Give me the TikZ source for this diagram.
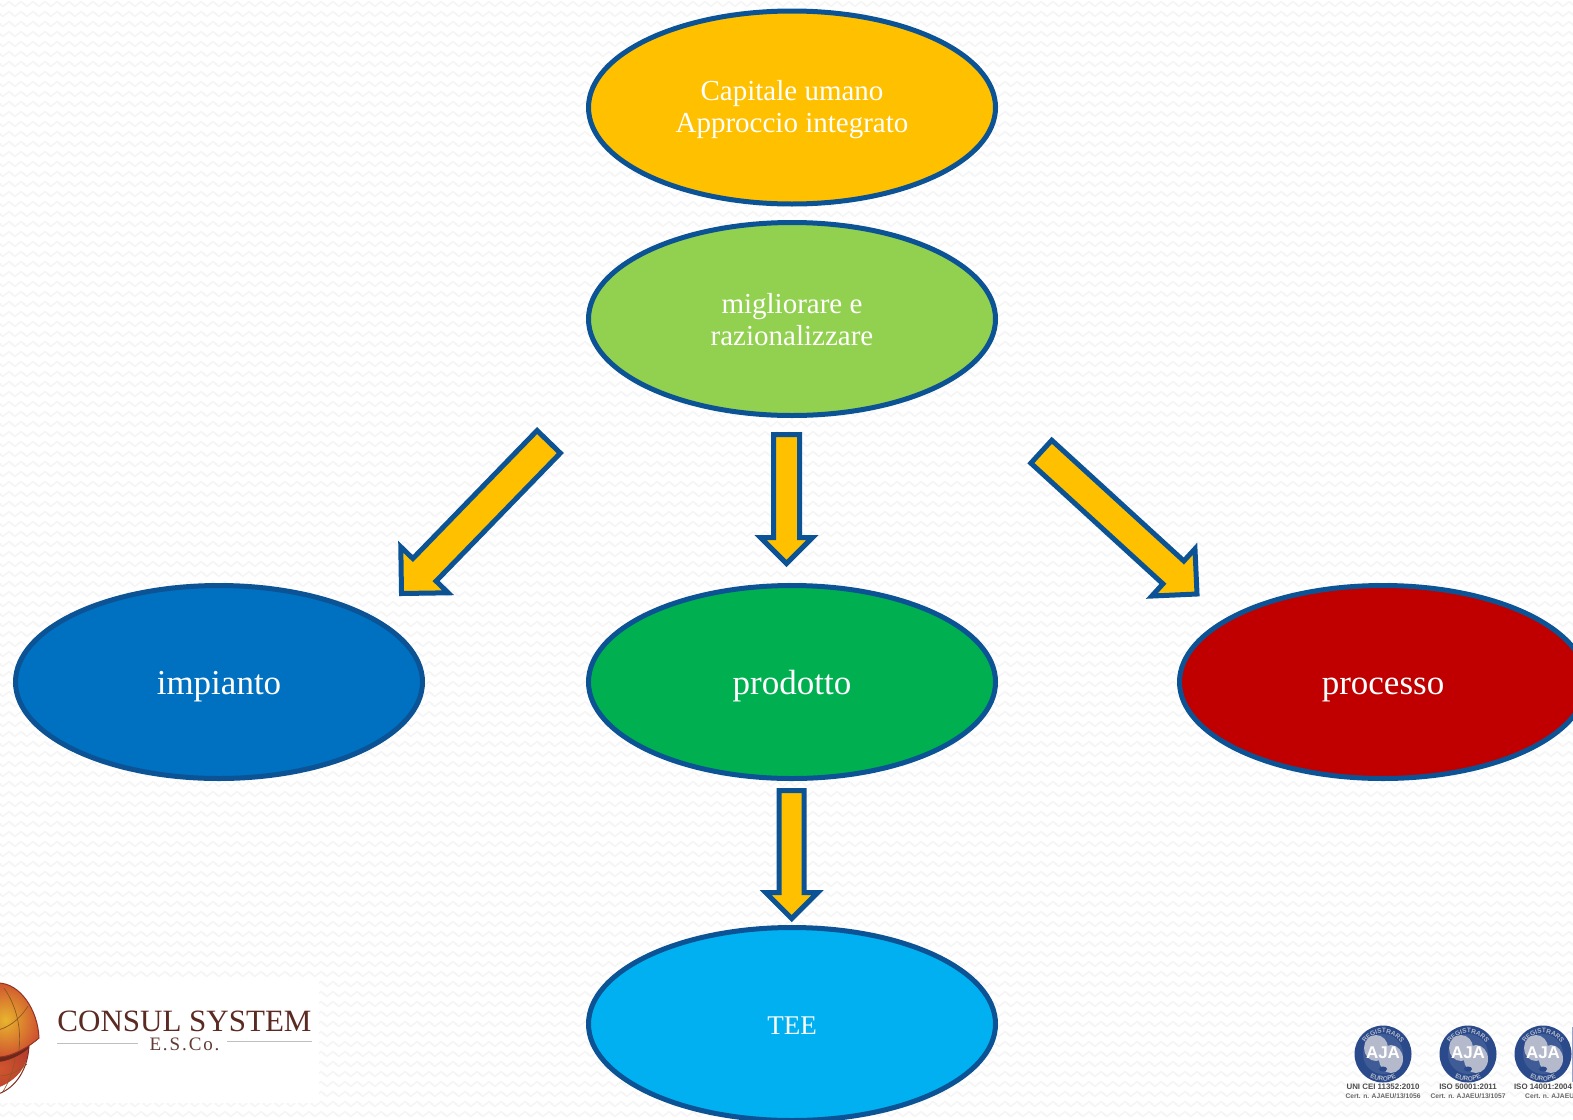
\documentclass[tikz,border=0pt]{standalone}
\usepackage{fontspec}
\setmainfont{Liberation Serif}
\newfontfamily\sansbold{Liberation Sans}
\newfontfamily\escofont[LetterSpace=10]{Liberation Serif}
\usetikzlibrary{shapes.geometric,calc,decorations.text,patterns}
\definecolor{edgeblue}{HTML}{0B5394}
\definecolor{amber}{HTML}{FFC000}
\definecolor{leaf}{HTML}{92D050}
\definecolor{royal}{HTML}{0070C0}
\definecolor{emerald}{HTML}{00B050}
\definecolor{crimson}{HTML}{C00000}
\definecolor{sky}{HTML}{00B0F0}
\definecolor{ajablue}{HTML}{2B4A8B}
\definecolor{ajaland}{HTML}{B4BACB}
\definecolor{wavegrey}{HTML}{F5F5F5}
\definecolor{logobrown}{HTML}{5B2A22}
\definecolor{globeY}{HTML}{E8B52E}
\definecolor{globeO}{HTML}{D0552F}
\definecolor{globeR}{HTML}{B8402C}
\definecolor{globeL}{HTML}{8A5A1E}
\pgfdeclarepatternformonly{softwave}{\pgfpoint{-1pt}{-1pt}}{\pgfpoint{13pt}{11pt}}{\pgfpoint{12pt}{10pt}}{%
  \pgfsetlinewidth{1.5pt}\pgfsetroundjoin
  \pgfpathmoveto{\pgfpoint{-3pt}{7.5pt}}
  \pgfpathlineto{\pgfpoint{3pt}{2.5pt}}
  \pgfpathlineto{\pgfpoint{9pt}{7.5pt}}
  \pgfpathlineto{\pgfpoint{15pt}{2.5pt}}
  \pgfusepath{stroke}}
\tikzset{
  oval/.style={ellipse,draw=edgeblue,line width=5pt,minimum width=407pt,minimum height=193pt,inner sep=0pt},
  smalltext/.style={font=\fontsize{29}{32}\selectfont,text=white,align=center,inner sep=0pt},
  teetext/.style={font=\fontsize{27}{32}\selectfont,text=white,inner sep=0pt},
  bigtext/.style={font=\fontsize{35}{38}\selectfont,text=white,inner sep=0pt,text height=26pt,text depth=2pt},
  blockstyle/.style={draw=edgeblue,fill=amber,line width=5pt,miter limit=10,line join=miter},
  badge/.style={circle,fill=ajablue,minimum size=57pt,inner sep=0pt},
  captiona/.style={font=\sansbold\bfseries\fontsize{7.9}{8}\selectfont,text=black!70,inner sep=0pt},
  captionb/.style={font=\sansbold\bfseries\fontsize{6.7}{7}\selectfont,text=black!60,inner sep=0pt},
}
% #1 tail, #2 tip, #3 shaft half width, #4 head length, #5 head half width
\newcommand{\blockarrow}[5]{%
  \coordinate (hh) at ($(#2)!#4pt!(#1)$);
  \draw[blockstyle] ($(#1)!#3pt!90:(#2)$) -- ($(hh)!#3pt!90:(#2)$)
    -- ($(hh)!#5pt!90:(#2)$) -- (#2) -- ($(hh)!#5pt!-90:(#2)$)
    -- ($(hh)!#3pt!-90:(#2)$) -- ($(#1)!#3pt!-90:(#2)$) -- cycle;}
\newcommand{\ajabadge}[3]{%
  \node[badge] (#1) at (#2,1054) {};
  \fill[ajablue!90!white] (#1) circle (20pt);
  \fill[ajaland] ($(#1)+(-7,-6)$) ellipse (12pt and 13pt);
  \fill[ajaland] ($(#1)+(8,5)$) ellipse (12pt and 14pt);
  \fill[ajablue] ($(#1)+(0,15)$) ellipse (4pt and 2.5pt);
  \node[font=\sansbold\bfseries\fontsize{17}{17}\selectfont,text=white,inner sep=0pt] at ($(#1)+(0,-1)$) {AJA};
  \path[postaction={decorate},decoration={text along path,text align=center,
     text={|\sansbold\bfseries\fontsize{6.5}{7}\selectfont\color{ajaland}|REGISTRARS}}]
     ($(#1)+(-21,0)$) arc[start angle=180,end angle=0,radius=21pt];
  \path[postaction={decorate},decoration={text along path,text align=center,
     text={|\sansbold\bfseries\fontsize{6.5}{7}\selectfont\color{ajaland}|EUROPE}}]
     ($(#1)+(-27,0)$) arc[start angle=180,end angle=360,radius=27pt];
  \node[captiona] at ($(#1)+(0,33)$) {#3};
}
\begin{document}
\begin{tikzpicture}[x=1pt,y=-1pt]
\useasboundingbox (0,0) rectangle (1573,1119);
\fill[white] (0,0) rectangle (1573,1119);
% faint wavy background
\fill[pattern=softwave,pattern color=wavegrey] (0,0) rectangle (1573,1119);
% ovals
\node[oval,fill=amber,label={[smalltext,yshift=-2.5pt]center:{Capitale umano\\Approccio integrato}}] (cap) at (792,107.5) {};
\node[oval,fill=leaf,label={[smalltext,yshift=-1pt]center:{migliorare e\\razionalizzare}}] (mig) at (792,319) {};
\node[oval,fill=royal,label={[bigtext]center:impianto}] (imp) at (219,682) {};
\node[oval,fill=emerald,label={[bigtext]center:prodotto}] (pro) at (792,682) {};
\node[oval,fill=crimson,label={[bigtext]center:processo}] (prc) at (1383,682) {};
\node[oval,fill=sky,label={[teetext,yshift=-2pt]center:TEE}] (tee) at (792,1024) {};
% block arrows
\coordinate (a1s) at (548.7,441.8);
\coordinate (a1t) at (401.5,593.5);
\coordinate (a2s) at (786.5,434.5);
\coordinate (a2t) at (786.5,563.5);
\coordinate (a3s) at (1041.3,451.7);
\coordinate (a3t) at (1197,594);
\coordinate (a4s) at (791.7,790.5);
\coordinate (a4t) at (791.7,918.5);
\blockarrow{a1s}{a1t}{16.2}{33}{33}
\blockarrow{a2s}{a2t}{13}{26}{26}
\blockarrow{a3s}{a3t}{15.5}{32}{32}
\blockarrow{a4s}{a4t}{12.5}{26}{26}
% Consul System logo
\fill[white] (0,978) rectangle (319,1103);
\begin{scope}
\clip (0,970) rectangle (60,1110);
\shade[inner color=globeO,outer color=globeR]
  (-28,1058) .. controls (0,1060) and (20,1052) .. (29,1043)
  .. controls (29,1068) and (16,1088) .. (-28,1094) -- cycle;
\draw[globeR!70!black,line width=1pt] (29,1043) .. controls (29,1068) and (16,1088) .. (-2,1094);
\fill[black!40!globeR] (-28,1054) -- (0,1057) .. controls (12,1056) and (24,1050) .. (29,1044)
  -- (29,1048) .. controls (20,1056) and (8,1061) .. (-2,1062) -- (-28,1062) -- cycle;
\draw[globeL,line width=.6pt] (-2,1076) .. controls (8,1076) and (18,1072) .. (27,1064);
\draw[globeL,line width=.6pt] (15,1058) .. controls (14,1070) and (8,1084) .. (2,1093);
\shade[inner color=globeY,outer color=globeO]
  (-28,1056) -- (0,1057) .. controls (14,1056) and (30,1046) .. (39,1038)
  .. controls (38,1010) and (20,983) .. (-2,983) -- (-28,983) -- cycle;
\draw[globeR!80!black,line width=1pt] (0,1057) .. controls (14,1056) and (30,1046) .. (39,1038)
  .. controls (38,1010) and (20,983) .. (-2,983);
\draw[globeL,line width=.7pt] (-2,1030) .. controls (6,1028) and (18,1022) .. (28,1006);
\draw[globeL,line width=.7pt] (4,988) .. controls (14,1002) and (22,1024) .. (19,1050);
\end{scope}
\node[font=\fontsize{31}{33}\selectfont,text=logobrown,inner sep=0pt] (cs) at (184.5,1021) {CONSUL SYSTEM};
\node[font=\escofont\fontsize{19}{20}\selectfont,text=logobrown!80!gray,inner sep=0pt] (esco) at (184.5,1044) {E.S.Co.};
\coordinate (ll) at (57,1043);
\coordinate (lr) at (138,1043);
\coordinate (rl) at (227,1041);
\coordinate (rr) at (312,1041);
\draw[black!25,line width=1pt] (ll) -- (lr);
\draw[black!25,line width=1pt] (rl) -- (rr);
% AJA badges
\begin{scope}
\clip (1320,1000) rectangle (1573,1119);
\ajabadge{b1}{1383}{UNI CEI 11352:2010}
\ajabadge{b2}{1468}{ISO 50001:2011}
\ajabadge{b3}{1543}{ISO 14001:2004}
\node[captionb] (c1) at (1383,1096) {Cert. n. AJAEU/13/1056};
\node[captionb] (c2) at (1468,1096) {Cert. n. AJAEU/13/1057};
\node[captionb,anchor=west] (c3) at (1525,1096) {Cert. n. AJAEU/};
\fill[ajablue!50] (1572,1027) rectangle (1573,1082);
\end{scope}
\end{tikzpicture}
\end{document}
